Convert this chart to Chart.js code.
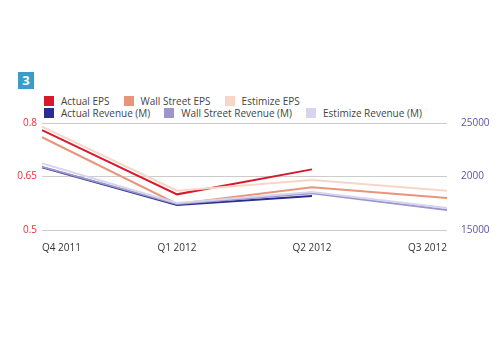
<!DOCTYPE html>
<html>
<head>
<meta charset="utf-8">
<script src="https://cdn.jsdelivr.net/npm/chart.js@4"></script>
<style>
  html, body { margin: 0; padding: 0; background: #fff; }
  #wrap { position: relative; width: 500px; height: 350px; font-family: 'Open Sans', sans-serif; }
  #badge {
    position: absolute; left: 18px; top: 72px; width: 16px; height: 17px;
    background: #3a9cc9; color: #fff; font: bold 13px 'Open Sans', sans-serif;
    text-align: center; line-height: 17px;
  }
  #legend { position: absolute; left: 44px; top: 95px; font-size: 10px; color: #444; }
  .row { display: flex; height: 12px; align-items: center; }
  .item { display: flex; align-items: center; margin-right: 14px; }
  .box { width: 10px; height: 10px; margin-right: 7px; }
  canvas { position: absolute; left: 0; top: 0; }
</style>
</head>
<body>
<div id="wrap">
  <div id="badge">3</div>
  <div id="legend"></div>
  <canvas id="chart" width="500" height="350"></canvas>
</div>
<script>
// Quarters on the x axis
const quarters = ['Q4 2011', 'Q1 2012', 'Q2 2012', 'Q3 2012'];

// EPS series (left axis)
const actualEps = [0.78, 0.60, 0.67, null];
const wallStreetEps = [0.76, 0.573, 0.62, 0.59];
const estimizeEps = [0.79, 0.61, 0.64, 0.61];

// Revenue series in millions (right axis)
const actualRevenue = [20870, 17340, 18180, null];
const wallStreetRevenue = [20900, 17430, 18430, 16870];
const estimizeRevenue = [21230, 17520, 18550, 17050];

// Tick labels as printed on the chart
const epsTicks = ['0.5', '0.65', '0.8'];
const revenueTicks = ['15000', '2000', '25000'];

const series = [
  { label: 'Actual EPS', data: actualEps, color: '#d7192b', axis: 'yEps' },
  { label: 'Wall Street EPS', data: wallStreetEps, color: '#e9957b', axis: 'yEps' },
  { label: 'Estimize EPS', data: estimizeEps, color: '#f7d6c8', axis: 'yEps' },
  { label: 'Actual Revenue (M)', data: actualRevenue, color: '#2a2d8c', axis: 'yRev' },
  { label: 'Wall Street Revenue (M)', data: wallStreetRevenue, color: '#9d96cc', axis: 'yRev' },
  { label: 'Estimize Revenue (M)', data: estimizeRevenue, color: '#d6d4ee', axis: 'yRev' },
];

// Build legend in two rows (EPS / Revenue)
const legendEl = document.getElementById('legend');
[series.slice(0, 3), series.slice(3)].forEach((group) => {
  const row = document.createElement('div');
  row.className = 'row';
  group.forEach((s) => {
    const item = document.createElement('div');
    item.className = 'item';
    item.innerHTML = `<span class="box" style="background:${s.color}"></span>${s.label}`;
    row.appendChild(item);
  });
  legendEl.appendChild(row);
});

const ctx = document.getElementById('chart');

new Chart(ctx, {
  type: 'line',
  data: {
    labels: quarters,
    // Draw revenue first so EPS lines sit on top
    datasets: series.slice().reverse().map((s) => ({
      label: s.label,
      data: s.data,
      borderColor: s.color,
      backgroundColor: s.color,
      borderWidth: 2,
      pointRadius: 0,
      tension: 0,
      fill: false,
      yAxisID: s.axis,
    })),
  },
  options: {
    responsive: false,
    animation: false,
    layout: { padding: { top: 123, left: 0, right: 0, bottom: 0 } },
    plugins: {
      legend: { display: false },
      tooltip: { enabled: false },
    },
    scales: {
      x: {
        offset: false,
        grid: { display: false },
        border: { display: false },
        afterFit: (s) => { s.height = 120; },
        ticks: {
          align: 'inner',
          color: '#333',
          padding: 4,
          font: { family: 'Open Sans', size: 10 },
          maxRotation: 0,
        },
      },
      yEps: {
        position: 'left',
        min: 0.5,
        max: 0.8,
        afterFit: (s) => { s.width = 42; },
        afterBuildTicks: (s) => {
          s.ticks = epsTicks.map((t) => ({ value: parseFloat(t) }));
        },
        grid: { color: '#cccccc', drawTicks: false },
        border: { display: false },
        ticks: {
          color: '#e0323e',
          padding: 5,
          font: { family: 'Open Sans', size: 10 },
          callback: (value, i) => epsTicks[i],
        },
      },
      yRev: {
        position: 'right',
        min: 15000,
        max: 25000,
        afterFit: (s) => { s.width = 53; },
        afterBuildTicks: (s) => {
          s.ticks = [15000, 20000, 25000].map((v) => ({ value: v }));
        },
        grid: { display: false },
        border: { display: false },
        ticks: {
          color: '#5a55a8',
          padding: 6,
          font: { family: 'Open Sans', size: 10 },
          callback: (value, i) => revenueTicks[i],
        },
      },
    },
  },
});
</script>
</body>
</html>
